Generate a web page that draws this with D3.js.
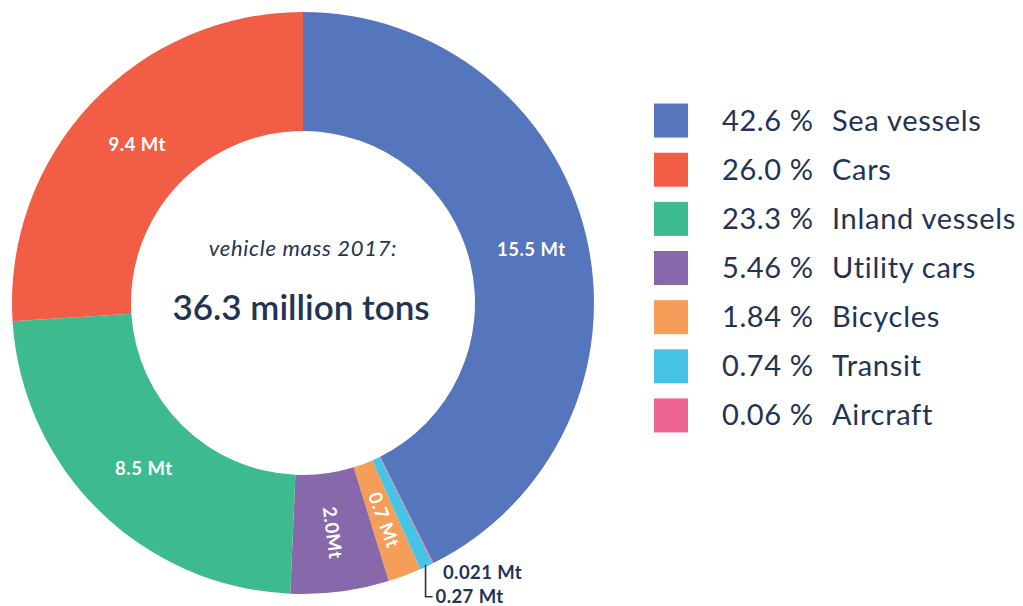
<!DOCTYPE html>
<html>
<head>
<meta charset="utf-8">
<script src="https://cdn.jsdelivr.net/npm/d3@7/dist/d3.min.js"></script>
<style>
  html, body { margin: 0; padding: 0; background: #fff; }
  svg { display: block; font-family: Lato, "Open Sans", sans-serif; }
</style>
</head>
<body>
<svg id="chart" width="1023" height="606"></svg>
<script>
// Vehicle mass by category, 2017 (clockwise from 12 o'clock)
const categories = ["Sea vessels", "Aircraft", "Transit", "Bicycles", "Utility cars", "Inland vessels", "Cars"];
const shares     = [42.6, 0.06, 0.74, 1.84, 5.46, 23.3, 26.0];          // percent
const massLabels = ["15.5 Mt", "0.021 Mt", "0.27 Mt", "0.7 Mt", "2.0Mt", "8.5 Mt", "9.4 Mt"];
const colors     = ["#5575bc", "#ef6592", "#45c4e6", "#f69d5a", "#8768ab", "#3dbb8f", "#f15e45"];

// Legend order
const legendOrder  = ["Sea vessels", "Cars", "Inland vessels", "Utility cars", "Bicycles", "Transit", "Aircraft"];
const legendShares = ["42.6 %", "26.0 %", "23.3 %", "5.46 %", "1.84 %", "0.74 %", "0.06 %"];

const centerTitle = "vehicle mass 2017:";
const centerTotal = "36.3 million tons";

const textColor = "#233353";
const svg = d3.select("#chart");
const cx = 303, cy = 303, rOuter = 291, rInner = 172;

const data = categories.map((c, i) => ({ name: c, value: shares[i], label: massLabels[i] }));
const color = d3.scaleOrdinal().domain(categories).range(colors);

const pie = d3.pie().sort(null).value(d => d.value);
const arcs = pie(data);
const arc = d3.arc().innerRadius(rInner).outerRadius(rOuter);
const labelArc = d3.arc().innerRadius((rInner + rOuter) / 2).outerRadius((rInner + rOuter) / 2);

const g = svg.append("g").attr("transform", `translate(${cx},${cy})`);

g.selectAll("path.slice")
  .data(arcs)
  .join("path")
  .attr("class", "slice")
  .attr("d", arc)
  .attr("fill", d => color(d.data.name));

// In-ring labels: large slices horizontal, mid-size slices rotated along the radius
const deg = a => a * 180 / Math.PI;
g.selectAll("text.inlabel")
  .data(arcs.filter(d => d.data.value >= 1))
  .join("text")
  .attr("class", "inlabel")
  .attr("transform", d => {
    const [x, y] = labelArc.centroid(d);
    const mid = (d.startAngle + d.endAngle) / 2;
    const rot = d.data.value < 10 ? deg(mid) - 90 : 0;
    return `translate(${x + (d.data.value >= 10 ? 3 : 0)},${y}) rotate(${rot})`;
  })
  .attr("text-anchor", "middle")
  .attr("dy", "0.35em")
  .attr("fill", "#fff")
  .attr("font-weight", 700)
  .attr("font-size", 18.5)
  .attr("letter-spacing", 0.5)
  .text(d => d.data.label);

// Small slices: labels outside the ring
const aircraftArc = arcs[categories.indexOf("Aircraft")];
const transitArc = arcs[categories.indexOf("Transit")];
const outerPt = (d, r) => {
  const a = (d.startAngle + d.endAngle) / 2;
  return [r * Math.sin(a), -r * Math.cos(a)];
};
const [tx, ty] = outerPt(transitArc, rOuter - 2);
g.append("path")
  .attr("d", `M${tx},${ty} V${ty + 32} H${tx + 7}`)
  .attr("fill", "none")
  .attr("stroke", textColor)
  .attr("stroke-width", 1.6);
g.append("text")
  .attr("x", tx + 10).attr("y", ty + 32).attr("dy", "0.35em")
  .attr("fill", textColor).attr("font-size", 18.5).attr("font-weight", 700)
  .attr("letter-spacing", 0.4)
  .text(transitArc.data.label);
const [ax, ay] = outerPt(aircraftArc, rOuter);
g.append("text")
  .attr("x", ax + 10).attr("y", ay + 9).attr("dy", "0.35em")
  .attr("fill", textColor).attr("font-size", 18.5).attr("font-weight", 700)
  .attr("letter-spacing", 0.4)
  .text(aircraftArc.data.label);

// Centre text
g.append("text")
  .attr("x", 0).attr("y", -47)
  .attr("text-anchor", "middle")
  .attr("fill", textColor)
  .attr("font-style", "italic")
  .attr("font-size", 22)
  .attr("letter-spacing", 0.7)
  .text(centerTitle);
g.append("text")
  .attr("x", -2).attr("y", 17)
  .attr("text-anchor", "middle")
  .attr("fill", textColor)
  .attr("font-weight", 600)
  .attr("font-size", 35)
  .text(centerTotal);

// Legend
const legendY = d3.scaleBand().domain(legendOrder).range([96, 440]).padding(0);
const legend = svg.append("g");
const rows = legend.selectAll("g.row")
  .data(legendOrder)
  .join("g")
  .attr("class", "row")
  .attr("transform", d => `translate(0,${legendY(d) + legendY.bandwidth() / 2})`);
rows.append("rect")
  .attr("x", 654).attr("y", -17)
  .attr("width", 34).attr("height", 34)
  .attr("fill", d => color(d));
rows.append("text")
  .attr("x", 722).attr("y", 10)
  .attr("fill", textColor)
  .attr("font-size", 29)
  .attr("letter-spacing", 0.6)
  .text((d, i) => legendShares[i]);
rows.append("text")
  .attr("x", 832).attr("y", 10)
  .attr("fill", textColor)
  .attr("font-size", 29)
  .attr("letter-spacing", 0.7)
  .text(d => d);
</script>
</body>
</html>
